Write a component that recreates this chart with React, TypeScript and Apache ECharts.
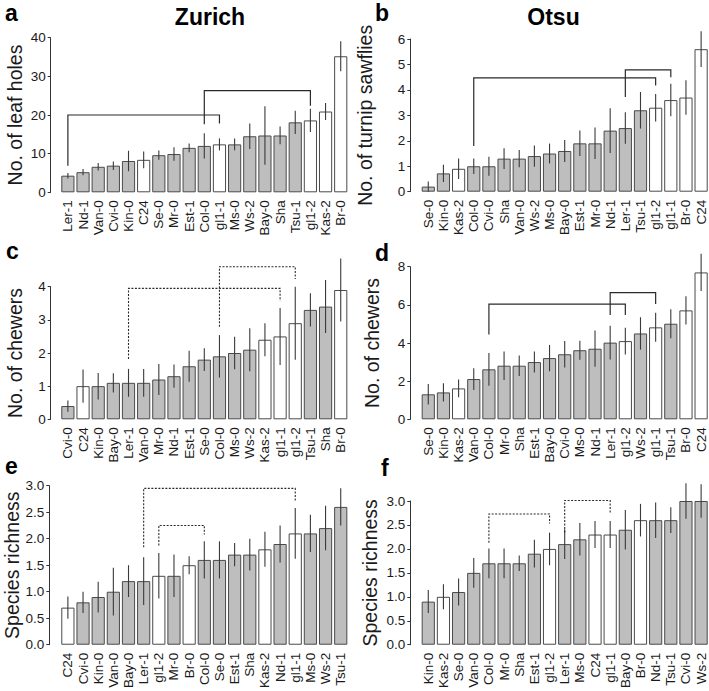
import React, { useEffect, useRef } from "react";
import * as echarts from "echarts";

// ---------- data ----------
const whiteAccessions = ["C24", "gl1-1", "gl1-2", "Kas-2", "Br-0"];

// a: Zurich, leaf holes
const catsA = ["Ler-1","Nd-1","Van-0","Cvi-0","Kin-0","C24","Se-0","Mr-0","Est-1","Col-0","gl1-1","Ms-0","Ws-2","Bay-0","Sha","Tsu-1","gl1-2","Kas-2","Br-0"];
const meanA = [4.3,5.2,6.6,6.9,8.1,8.4,9.6,9.9,11.5,12.0,12.4,12.4,14.5,14.7,14.7,18.1,18.6,20.9,35.2];
const errA = [0.7,0.8,0.95,1.1,2.65,2.15,1.2,1.75,1.15,3.25,1.55,1.55,3.3,7.55,2.3,3.0,3.0,2.2,3.85];
const bracketsA = [
  { from: "Ler-1", to: "gl1-1", left: 6.9, top: 20.0, right: 17.8 },
  { from: "Col-0", to: "gl1-2", left: 17.6, top: 26.3, right: 22.4 },
];

// b: Otsu, turnip sawflies
const catsB = ["Se-0","Kin-0","Kas-2","Col-0","Cvi-0","Sha","Van-0","Ws-2","Ms-0","Bay-0","Est-1","Mr-0","Nd-1","Ler-1","Tsu-1","gl1-2","gl1-1","Br-0","C24"];
const meanB = [0.2,0.72,0.9,1.0,1.0,1.3,1.3,1.4,1.5,1.6,1.9,1.9,2.4,2.5,3.2,3.3,3.6,3.7,5.6];
const errB = [0.2,0.34,0.4,0.3,0.37,0.41,0.34,0.42,0.39,0.43,0.5,0.62,0.88,0.62,0.72,0.54,0.64,0.68,0.7];
const bracketsB = [
  { from: "Col-0", to: "gl1-2", left: 1.8, top: 4.47, right: 4.17 },
  { from: "Ler-1", to: "gl1-1", left: 3.72, top: 4.79, right: 4.5 },
];

// c: Zurich, chewers
const catsC = ["Cvi-0","C24","Kin-0","Bay-0","Ler-1","Van-0","Mr-0","Nd-1","Est-1","Se-0","Col-0","Ms-0","Ws-2","Kas-2","gl1-1","gl1-2","Tsu-1","Sha","Br-0"];
const meanC = [0.4,1.0,1.0,1.1,1.1,1.1,1.2,1.3,1.6,1.8,1.9,2.0,2.1,2.4,2.5,2.9,3.3,3.4,3.9];
const errC = [0.17,0.5,0.4,0.29,0.42,0.42,0.47,0.35,0.47,0.34,0.64,0.49,0.65,0.5,0.86,1.1,0.5,0.8,0.95];
const bracketsC = [
  { from: "Ler-1", to: "gl1-1", left: 1.82, top: 3.95, right: 3.57 },
  { from: "Col-0", to: "gl1-2", left: 2.79, top: 4.6, right: 4.23 },
];

// d: Otsu, chewers
const catsD = ["Se-0","Kin-0","Kas-2","Van-0","Col-0","Mr-0","Sha","Est-1","Bay-0","Cvi-0","Ms-0","Nd-1","Ler-1","gl1-2","Ws-2","gl1-1","Tsu-1","Br-0","C24"];
const meanD = [1.31,1.41,1.62,2.11,2.62,2.81,2.81,3.0,3.21,3.41,3.62,3.7,4.02,4.1,4.5,4.82,5.01,5.71,7.7];
const errD = [0.54,0.48,0.46,0.57,0.86,0.75,0.54,0.55,0.69,0.7,0.5,0.95,0.88,0.7,0.85,0.76,0.76,0.74,0.98];
const bracketsD = [
  { from: "Col-0", to: "gl1-2", left: 4.45, top: 6.04, right: 5.47 },
  { from: "Ler-1", to: "gl1-1", left: 5.47, top: 6.64, right: 6.04 },
];

// e: Zurich, species richness
const catsE = ["C24","Cvi-0","Kin-0","Van-0","Bay-0","Ler-1","gl1-2","Mr-0","Br-0","Col-0","Se-0","Est-1","Sha","Kas-2","Nd-1","gl1-1","Ms-0","Ws-2","Tsu-1"];
const meanE = [0.7,0.8,0.9,1.0,1.2,1.2,1.3,1.3,1.5,1.6,1.6,1.7,1.7,1.8,1.9,2.1,2.1,2.2,2.6];
const errE = [0.21,0.2,0.29,0.45,0.3,0.45,0.43,0.4,0.17,0.35,0.35,0.22,0.3,0.33,0.35,0.48,0.35,0.42,0.35];
const bracketsE = [
  { from: "Ler-1", to: "gl1-1", left: 1.84, top: 2.95, right: 2.7 },
  { from: "gl1-2", to: "Col-0", left: 1.87, top: 2.25, right: 2.08 },
];

// f: Otsu, species richness
const catsF = ["Kin-0","Kas-2","Se-0","Van-0","Col-0","Mr-0","Sha","Est-1","gl1-2","Ler-1","Ms-0","C24","gl1-1","Bay-0","Br-0","Nd-1","Tsu-1","Cvi-0","Ws-2"];
const meanF = [0.9,1.0,1.1,1.5,1.7,1.7,1.7,1.9,2.0,2.1,2.2,2.3,2.3,2.4,2.6,2.6,2.6,3.0,3.0];
const errF = [0.24,0.26,0.28,0.31,0.31,0.31,0.16,0.29,0.34,0.31,0.34,0.28,0.28,0.41,0.34,0.37,0.27,0.37,0.35];
const bracketsF = [
  { from: "Col-0", to: "gl1-2", left: 2.13, top: 2.73, right: 2.53 },
  { from: "Ler-1", to: "gl1-1", left: 2.34, top: 3.01, right: 2.73 },
];

const yNames = ["No. of leaf holes", "No. of turnip sawflies", "No. of chewers", "No. of chewers", "Species richness", "Species richness"];
const yMax = [40, 6, 4, 8, 3, 3];
const yStep = [10, 1, 1, 2, 0.5, 0.5];
const letters = ["a", "b", "c", "d", "e", "f"];
const siteTitles = ["Zurich", "Otsu"];

// ---------- layout / style ----------
const FONT = "'Liberation Sans', Arial, Helvetica, sans-serif";
const TXT = "#1a1a1a";
const GREY = "#bebebe";
const EDGE = "#4a4a4a";

const layout = [
  { left: 60.3, top: 37.7, bottom: 192.3, offset: 9.6, nameGap: 26, dotted: false },
  { left: 420.7, top: 39, bottom: 191.7, offset: 10.4, nameGap: 35, dotted: false },
  { left: 60.3, top: 286.7, bottom: 419.3, offset: 9.6, nameGap: 26, dotted: true },
  { left: 420.7, top: 266.7, bottom: 419.3, offset: 10.4, nameGap: 28, dotted: false },
  { left: 60.3, top: 485.7, bottom: 647.3, offset: 11, nameGap: 23, dotted: true },
  { left: 420.7, top: 501, bottom: 647.3, offset: 10.4, nameGap: 30, dotted: true },
];
const GRID_W = 288;

const panels = [
  { cats: catsA, mean: meanA, err: errA, brackets: bracketsA },
  { cats: catsB, mean: meanB, err: errB, brackets: bracketsB },
  { cats: catsC, mean: meanC, err: errC, brackets: bracketsC },
  { cats: catsD, mean: meanD, err: errD, brackets: bracketsD },
  { cats: catsE, mean: meanE, err: errE, brackets: bracketsE },
  { cats: catsF, mean: meanF, err: errF, brackets: bracketsF },
];

function buildOption() {
  const grid: any[] = [];
  const xAxis: any[] = [];
  const yAxis: any[] = [];
  const series: any[] = [];

  panels.forEach((p, i) => {
    const L = layout[i];
    grid.push({ left: L.left, top: L.top, width: GRID_W, height: L.bottom - L.top });
    xAxis.push({
      type: "category",
      gridIndex: i,
      data: p.cats,
      axisLine: { show: false },
      axisTick: { show: false },
      axisLabel: { rotate: 90, interval: 0, fontSize: 13.5, color: TXT, fontFamily: FONT, margin: 8 },
    });
    const decimals = yStep[i] < 1 ? 1 : 0;
    yAxis.push({
      type: "value",
      gridIndex: i,
      min: 0,
      max: yMax[i],
      interval: yStep[i],
      offset: L.offset,
      splitLine: { show: false },
      axisLine: { show: true, lineStyle: { color: "#333", width: 1 } },
      axisTick: { show: true, length: 3, lineStyle: { color: "#333", width: 1 } },
      axisLabel: {
        fontSize: 13.5,
        color: TXT,
        fontFamily: FONT,
        margin: 5,
        formatter: (v: number) => v.toFixed(decimals),
      },
      name: yNames[i],
      nameLocation: "middle",
      nameGap: L.nameGap,
      nameTextStyle: { fontSize: 19.5, color: TXT, fontFamily: FONT },
    });

    series.push({
      type: "bar",
      xAxisIndex: i,
      yAxisIndex: i,
      barWidth: "87%",
      data: p.mean.map((v, k) => ({
        value: v,
        itemStyle: {
          color: whiteAccessions.includes(p.cats[k]) ? "#ffffff" : GREY,
          borderColor: EDGE,
          borderWidth: 1,
        },
      })),
      silent: true,
    });

    series.push({
      type: "custom",
      xAxisIndex: i,
      yAxisIndex: i,
      clip: false,
      silent: true,
      z: 5,
      data: p.mean.map((v, k) => [k, v - p.err[k], v + p.err[k]]),
      encode: { x: 0, y: [1, 2] },
      renderItem: (params: any, api: any) => {
        const x = api.value(0);
        const a = api.coord([x, api.value(1)]);
        const b = api.coord([x, api.value(2)]);
        return {
          type: "line",
          shape: { x1: a[0], y1: a[1], x2: b[0], y2: b[1] },
          style: { stroke: "#3a3a3a", lineWidth: 1.1 },
        };
      },
    });

    series.push({
      type: "custom",
      xAxisIndex: i,
      yAxisIndex: i,
      clip: false,
      silent: true,
      z: 6,
      data: p.brackets.map((b) => [p.cats.indexOf(b.from), p.cats.indexOf(b.to), b.left, b.top, b.right]),
      encode: { x: [0, 1], y: [2, 3, 4] },
      renderItem: (params: any, api: any) => {
        const x0 = api.value(0);
        const x1 = api.value(1);
        const pts = [
          api.coord([x0, api.value(2)]),
          api.coord([x0, api.value(3)]),
          api.coord([x1, api.value(3)]),
          api.coord([x1, api.value(4)]),
        ];
        return {
          type: "polyline",
          shape: { points: pts },
          style: {
            stroke: "#2a2a2a",
            fill: "none",
            lineWidth: L.dotted ? 1.1 : 1.2,
            lineDash: L.dotted ? [2, 1.5] : null,
          },
        };
      },
    });
  });

  const letterPos = [
    [5, 1], [375, 1], [6, 239], [375, 241], [5, 454], [381, 456],
  ];
  const graphic: any[] = letters.map((t, i) => ({
    type: "text",
    x: letterPos[i][0],
    y: letterPos[i][1],
    style: { text: t, font: `bold 23px ${FONT}`, fill: "#000", textAlign: "left", textVerticalAlign: "top" },
  }));
  graphic.push({
    type: "text",
    x: 210,
    y: 17,
    style: { text: siteTitles[0], font: `bold 23px ${FONT}`, fill: "#000", textAlign: "center", textVerticalAlign: "middle" },
  });
  graphic.push({
    type: "text",
    x: 553.5,
    y: 17,
    style: { text: siteTitles[1], font: `bold 23px ${FONT}`, fill: "#000", textAlign: "center", textVerticalAlign: "middle" },
  });

  return {
    animation: false,
    backgroundColor: "#ffffff",
    textStyle: { fontFamily: FONT },
    grid,
    xAxis,
    yAxis,
    series,
    graphic,
  };
}

export default function App() {
  const ref = useRef<HTMLDivElement>(null);
  useEffect(() => {
    if (!ref.current) return;
    const chart = echarts.init(ref.current, undefined, { renderer: "svg" });
    chart.setOption(buildOption() as any);
    return () => chart.dispose();
  }, []);
  return (
    <div
      ref={ref}
      style={{ position: "fixed", left: 0, top: 0, width: 709, height: 691, background: "#fff" }}
    />
  );
}
